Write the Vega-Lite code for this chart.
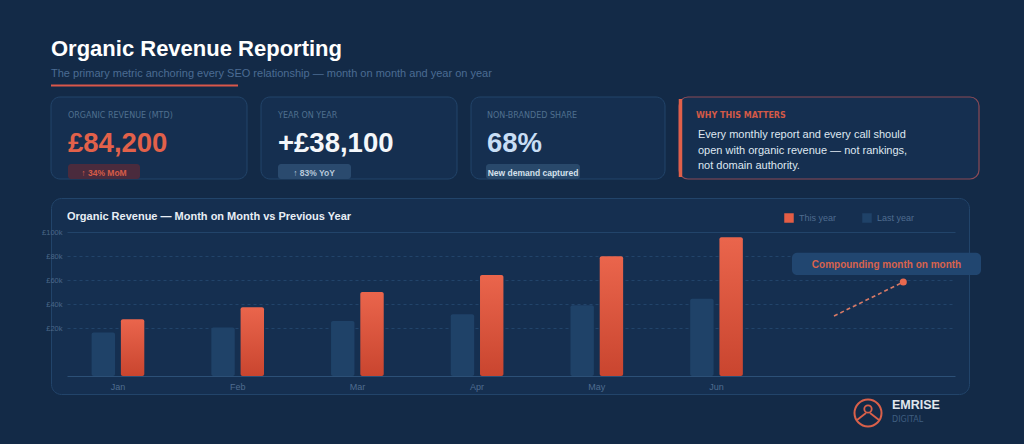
{
  "$schema": "https://vega.github.io/schema/vega-lite/v6.json",
  "background": "#132a47",
  "padding": {"left": 41, "top": 30, "right": 42, "bottom": 16},
  "config": {"font": "Liberation Sans", "view": {"stroke": null}},
  "datasets": {
    "revenue": [
      {"month": "Jan", "series": "Last year", "revenue": 16200},
      {"month": "Jan", "series": "This year", "revenue": 27300},
      {"month": "Feb", "series": "Last year", "revenue": 20400},
      {"month": "Feb", "series": "This year", "revenue": 37300},
      {"month": "Mar", "series": "Last year", "revenue": 25800},
      {"month": "Mar", "series": "This year", "revenue": 50000},
      {"month": "Apr", "series": "Last year", "revenue": 31400},
      {"month": "Apr", "series": "This year", "revenue": 64200},
      {"month": "May", "series": "Last year", "revenue": 38900},
      {"month": "May", "series": "This year", "revenue": 79800},
      {"month": "Jun", "series": "Last year", "revenue": 44400},
      {"month": "Jun", "series": "This year", "revenue": 95600}
    ],
    "kpis": [
      {"card": "revenue", "label": "ORGANIC REVENUE (MTD)", "value": "£84,200", "badge": "↑ 34% MoM"},
      {"card": "yoy", "label": "YEAR ON YEAR", "value": "+£38,100", "badge": "↑ 83% YoY"},
      {"card": "share", "label": "NON-BRANDED SHARE", "value": "68%", "badge": "New demand captured"},
      {"card": "why", "label": "WHY THIS MATTERS", "body": ["Every monthly report and every call should", "open with organic revenue — not rankings,", "not domain authority."]}
    ]
  },
  "spacing": 19,
  "bounds": "flush",
  "vconcat": [
    {
      "width": 918,
      "height": 48,
      "data": {"values": [{"title": "Organic Revenue Reporting", "subtitle": "The primary metric anchoring every SEO relationship — month on month and year on year"}]},
      "layer": [
        {
          "mark": {"type": "text", "align": "left", "baseline": "alphabetic", "fontSize": 22, "fontWeight": "bold", "color": "#ffffff"},
          "encoding": {
            "x": {"datum": 0, "type": "quantitative", "scale": {"domain": [0, 918], "range": [0, 918], "nice": false, "zero": false}, "axis": null},
            "y": {"datum": 26, "type": "quantitative", "scale": {"domain": [0, 48], "range": [0, 48], "nice": false, "zero": false}, "axis": null},
            "text": {"field": "title"}
          }
        },
        {
          "mark": {"type": "text", "align": "left", "baseline": "alphabetic", "fontSize": 11, "color": "#4b6c93"},
          "encoding": {
            "x": {"datum": 0, "type": "quantitative", "scale": {"domain": [0, 918], "range": [0, 918], "nice": false, "zero": false}, "axis": null},
            "y": {"datum": 46.7, "type": "quantitative", "scale": {"domain": [0, 48], "range": [0, 48], "nice": false, "zero": false}, "axis": null},
            "text": {"field": "subtitle"}
          }
        },
        {
          "mark": {"type": "rule", "color": "#d9574a", "strokeWidth": 2},
          "encoding": {
            "x": {"datum": 0, "type": "quantitative", "scale": {"domain": [0, 918], "range": [0, 918], "nice": false, "zero": false}, "axis": null},
            "x2": {"datum": 187},
            "y": {"datum": 55.5, "type": "quantitative", "scale": {"domain": [0, 48], "range": [0, 48], "nice": false, "zero": false}, "axis": null}
          }
        }
      ]
    },
    {
      "width": 928,
      "height": 82,
      "data": {"name": "kpis"},
      "layer": [
        {
          "transform": [{"filter": "datum.card === 'revenue'"}],
          "mark": {"type": "rect", "fill": "#152f50", "stroke": "#22446a", "strokeWidth": 1, "cornerRadius": 9},
          "encoding": {
            "x": {"datum": 0, "type": "quantitative", "scale": {"domain": [0, 928], "range": [0, 928], "nice": false, "zero": false}, "axis": null},
            "x2": {"datum": 196},
            "y": {"datum": 0, "type": "quantitative", "scale": {"domain": [0, 82], "range": [0, 82], "nice": false, "zero": false}, "axis": null},
            "y2": {"datum": 82}
          }
        },
        {
          "transform": [{"filter": "datum.card === 'yoy'"}],
          "mark": {"type": "rect", "fill": "#152f50", "stroke": "#22446a", "strokeWidth": 1, "cornerRadius": 9},
          "encoding": {
            "x": {"datum": 210, "type": "quantitative", "scale": {"domain": [0, 928], "range": [0, 928], "nice": false, "zero": false}, "axis": null},
            "x2": {"datum": 406},
            "y": {"datum": 0, "type": "quantitative", "scale": {"domain": [0, 82], "range": [0, 82], "nice": false, "zero": false}, "axis": null},
            "y2": {"datum": 82}
          }
        },
        {
          "transform": [{"filter": "datum.card === 'share'"}],
          "mark": {"type": "rect", "fill": "#152f50", "stroke": "#22446a", "strokeWidth": 1, "cornerRadius": 9},
          "encoding": {
            "x": {"datum": 420, "type": "quantitative", "scale": {"domain": [0, 928], "range": [0, 928], "nice": false, "zero": false}, "axis": null},
            "x2": {"datum": 614},
            "y": {"datum": 0, "type": "quantitative", "scale": {"domain": [0, 82], "range": [0, 82], "nice": false, "zero": false}, "axis": null},
            "y2": {"datum": 82}
          }
        },
        {
          "transform": [{"filter": "datum.card === 'why'"}],
          "mark": {"type": "rect", "fill": "#152f50", "stroke": "#8c4b57", "strokeWidth": 1.2, "cornerRadius": 9},
          "encoding": {
            "x": {"datum": 628, "type": "quantitative", "scale": {"domain": [0, 928], "range": [0, 928], "nice": false, "zero": false}, "axis": null},
            "x2": {"datum": 928},
            "y": {"datum": 0, "type": "quantitative", "scale": {"domain": [0, 82], "range": [0, 82], "nice": false, "zero": false}, "axis": null},
            "y2": {"datum": 82}
          }
        },
        {
          "transform": [{"filter": "datum.card === 'why'"}],
          "mark": {"type": "rule", "color": "#e0604a", "strokeWidth": 3.5},
          "encoding": {
            "x": {"datum": 629.5, "type": "quantitative", "scale": {"domain": [0, 928], "range": [0, 928], "nice": false, "zero": false}, "axis": null},
            "y": {"datum": 2, "type": "quantitative", "scale": {"domain": [0, 82], "range": [0, 82], "nice": false, "zero": false}, "axis": null},
            "y2": {"datum": 80}
          }
        },
        {
          "transform": [{"filter": "datum.card === 'revenue'"}],
          "mark": {"type": "text", "align": "left", "baseline": "alphabetic", "fontSize": 8, "font": "DejaVu Sans", "color": "#50708f"},
          "encoding": {
            "x": {"datum": 17, "type": "quantitative", "scale": {"domain": [0, 928], "range": [0, 928], "nice": false, "zero": false}, "axis": null},
            "y": {"datum": 21, "type": "quantitative", "scale": {"domain": [0, 82], "range": [0, 82], "nice": false, "zero": false}, "axis": null},
            "text": {"field": "label"}
          }
        },
        {
          "transform": [{"filter": "datum.card === 'yoy'"}],
          "mark": {"type": "text", "align": "left", "baseline": "alphabetic", "fontSize": 8, "font": "DejaVu Sans", "color": "#50708f"},
          "encoding": {
            "x": {"datum": 227, "type": "quantitative", "scale": {"domain": [0, 928], "range": [0, 928], "nice": false, "zero": false}, "axis": null},
            "y": {"datum": 21, "type": "quantitative", "scale": {"domain": [0, 82], "range": [0, 82], "nice": false, "zero": false}, "axis": null},
            "text": {"field": "label"}
          }
        },
        {
          "transform": [{"filter": "datum.card === 'share'"}],
          "mark": {"type": "text", "align": "left", "baseline": "alphabetic", "fontSize": 8, "font": "DejaVu Sans", "color": "#50708f"},
          "encoding": {
            "x": {"datum": 436, "type": "quantitative", "scale": {"domain": [0, 928], "range": [0, 928], "nice": false, "zero": false}, "axis": null},
            "y": {"datum": 21, "type": "quantitative", "scale": {"domain": [0, 82], "range": [0, 82], "nice": false, "zero": false}, "axis": null},
            "text": {"field": "label"}
          }
        },
        {
          "transform": [{"filter": "datum.card === 'why'"}],
          "mark": {"type": "text", "align": "left", "baseline": "alphabetic", "fontSize": 8, "font": "DejaVu Sans", "fontWeight": "bold", "color": "#d35a47"},
          "encoding": {
            "x": {"datum": 645, "type": "quantitative", "scale": {"domain": [0, 928], "range": [0, 928], "nice": false, "zero": false}, "axis": null},
            "y": {"datum": 21, "type": "quantitative", "scale": {"domain": [0, 82], "range": [0, 82], "nice": false, "zero": false}, "axis": null},
            "text": {"field": "label"}
          }
        },
        {
          "transform": [{"filter": "datum.card === 'revenue'"}],
          "mark": {"type": "text", "align": "left", "baseline": "alphabetic", "fontSize": 27.5, "fontWeight": "bold", "color": "#e2614a"},
          "encoding": {
            "x": {"datum": 17, "type": "quantitative", "scale": {"domain": [0, 928], "range": [0, 928], "nice": false, "zero": false}, "axis": null},
            "y": {"datum": 55, "type": "quantitative", "scale": {"domain": [0, 82], "range": [0, 82], "nice": false, "zero": false}, "axis": null},
            "text": {"field": "value"}
          }
        },
        {
          "transform": [{"filter": "datum.card === 'yoy'"}],
          "mark": {"type": "text", "align": "left", "baseline": "alphabetic", "fontSize": 27.5, "fontWeight": "bold", "color": "#f4f7fa"},
          "encoding": {
            "x": {"datum": 227, "type": "quantitative", "scale": {"domain": [0, 928], "range": [0, 928], "nice": false, "zero": false}, "axis": null},
            "y": {"datum": 55, "type": "quantitative", "scale": {"domain": [0, 82], "range": [0, 82], "nice": false, "zero": false}, "axis": null},
            "text": {"field": "value"}
          }
        },
        {
          "transform": [{"filter": "datum.card === 'share'"}],
          "mark": {"type": "text", "align": "left", "baseline": "alphabetic", "fontSize": 27.5, "fontWeight": "bold", "color": "#c8def5"},
          "encoding": {
            "x": {"datum": 436, "type": "quantitative", "scale": {"domain": [0, 928], "range": [0, 928], "nice": false, "zero": false}, "axis": null},
            "y": {"datum": 55, "type": "quantitative", "scale": {"domain": [0, 82], "range": [0, 82], "nice": false, "zero": false}, "axis": null},
            "text": {"field": "value"}
          }
        },
        {
          "transform": [{"filter": "datum.card === 'revenue'"}],
          "mark": {"type": "rect", "color": "#4a2b3d", "cornerRadius": 3},
          "encoding": {
            "x": {"datum": 17, "type": "quantitative", "scale": {"domain": [0, 928], "range": [0, 928], "nice": false, "zero": false}, "axis": null},
            "x2": {"datum": 89},
            "y": {"datum": 67, "type": "quantitative", "scale": {"domain": [0, 82], "range": [0, 82], "nice": false, "zero": false}, "axis": null},
            "y2": {"datum": 82}
          }
        },
        {
          "transform": [{"filter": "datum.card === 'yoy'"}],
          "mark": {"type": "rect", "color": "#2a4a6e", "cornerRadius": 3},
          "encoding": {
            "x": {"datum": 227, "type": "quantitative", "scale": {"domain": [0, 928], "range": [0, 928], "nice": false, "zero": false}, "axis": null},
            "x2": {"datum": 300},
            "y": {"datum": 67, "type": "quantitative", "scale": {"domain": [0, 82], "range": [0, 82], "nice": false, "zero": false}, "axis": null},
            "y2": {"datum": 82}
          }
        },
        {
          "transform": [{"filter": "datum.card === 'share'"}],
          "mark": {"type": "rect", "color": "#29496b", "cornerRadius": 3},
          "encoding": {
            "x": {"datum": 435, "type": "quantitative", "scale": {"domain": [0, 928], "range": [0, 928], "nice": false, "zero": false}, "axis": null},
            "x2": {"datum": 529},
            "y": {"datum": 67, "type": "quantitative", "scale": {"domain": [0, 82], "range": [0, 82], "nice": false, "zero": false}, "axis": null},
            "y2": {"datum": 82}
          }
        },
        {
          "transform": [{"filter": "datum.card === 'revenue'"}],
          "mark": {"type": "text", "align": "center", "baseline": "alphabetic", "fontSize": 8.5, "fontWeight": "bold", "color": "#d45c48"},
          "encoding": {
            "x": {"datum": 53, "type": "quantitative", "scale": {"domain": [0, 928], "range": [0, 928], "nice": false, "zero": false}, "axis": null},
            "y": {"datum": 78.5, "type": "quantitative", "scale": {"domain": [0, 82], "range": [0, 82], "nice": false, "zero": false}, "axis": null},
            "text": {"field": "badge"}
          }
        },
        {
          "transform": [{"filter": "datum.card === 'yoy'"}],
          "mark": {"type": "text", "align": "center", "baseline": "alphabetic", "fontSize": 8.5, "fontWeight": "bold", "color": "#b8c8da"},
          "encoding": {
            "x": {"datum": 263, "type": "quantitative", "scale": {"domain": [0, 928], "range": [0, 928], "nice": false, "zero": false}, "axis": null},
            "y": {"datum": 78.5, "type": "quantitative", "scale": {"domain": [0, 82], "range": [0, 82], "nice": false, "zero": false}, "axis": null},
            "text": {"field": "badge"}
          }
        },
        {
          "transform": [{"filter": "datum.card === 'share'"}],
          "mark": {"type": "text", "align": "center", "baseline": "alphabetic", "fontSize": 8.5, "fontWeight": "bold", "color": "#d5e0ec"},
          "encoding": {
            "x": {"datum": 482, "type": "quantitative", "scale": {"domain": [0, 928], "range": [0, 928], "nice": false, "zero": false}, "axis": null},
            "y": {"datum": 78.5, "type": "quantitative", "scale": {"domain": [0, 82], "range": [0, 82], "nice": false, "zero": false}, "axis": null},
            "text": {"field": "badge"}
          }
        },
        {
          "transform": [{"filter": "datum.card === 'why'"}],
          "mark": {"type": "text", "align": "left", "baseline": "alphabetic", "fontSize": 11, "lineHeight": 15.5, "color": "#dfe7f0"},
          "encoding": {
            "x": {"datum": 647, "type": "quantitative", "scale": {"domain": [0, 928], "range": [0, 928], "nice": false, "zero": false}, "axis": null},
            "y": {"datum": 41.3, "type": "quantitative", "scale": {"domain": [0, 82], "range": [0, 82], "nice": false, "zero": false}, "axis": null},
            "text": {"field": "body"}
          }
        }
      ]
    },
    {
      "width": 918,
      "height": 196,
      "view": {"fill": "#152f50", "stroke": "#22446a", "strokeWidth": 1, "cornerRadius": 10},
      "layer": [
        {
          "data": {"name": "revenue"},
          "encoding": {
            "x": {
              "field": "month", "type": "nominal",
              "sort": ["Jan", "Feb", "Mar", "Apr", "May", "Jun"],
              "scale": {"domain": ["Jan", "Feb", "Mar", "Apr", "May", "Jun"], "range": [16, 904], "paddingInner": 0.56, "paddingOuter": 0.989, "align": 0.104},
              "axis": {"title": null, "domain": false, "ticks": false, "labelPadding": 2, "offset": -14, "labelFontSize": 9, "labelColor": "#4f6c8f", "labelAngle": 0, "grid": false}
            },
            "xOffset": {"field": "series", "type": "nominal", "scale": {"domain": ["Last year", "This year"], "paddingInner": 0.2, "paddingOuter": 0}},
            "y": {
              "field": "revenue", "type": "quantitative",
              "scale": {"domain": [-20000, 100000], "range": [178, 34], "nice": false, "zero": false},
              "axis": {
                "title": null, "values": [-20000, 20000, 40000, 60000, 80000, 100000],
                "labelExpr": "datum.value < 0 ? '' : '£' + (datum.value / 1000) + 'k'",
                "domain": false, "ticks": false, "offset": -12, "labelPadding": 1,
                "labelFontSize": 7.5, "labelColor": "#4a6788",
                "grid": true,
                "gridColor": {"condition": {"test": "datum.value < 0", "value": "#2c5077"}, "value": "#22446a"},
                "gridDash": {"condition": {"test": "datum.value < 0 || datum.value >= 100000", "value": []}, "value": [3, 3]}
              }
            }
          },
          "layer": [
            {
              "transform": [{"filter": "datum.series === 'Last year'"}],
              "mark": {"type": "bar", "color": "#1f4268", "cornerRadius": 2},
              "encoding": {"y2": {"datum": -20000}}
            },
            {
              "transform": [{"filter": "datum.series === 'This year'"}],
              "mark": {
                "type": "bar", "cornerRadius": 2,
                "color": {"gradient": "linear", "x1": 0, "y1": 0, "x2": 0, "y2": 1, "stops": [{"offset": 0, "color": "#ea654c"}, {"offset": 1, "color": "#c9452f"}]}
              },
              "encoding": {"y2": {"datum": -20000}}
            },
            {
              "mark": {"type": "square", "opacity": 0},
              "encoding": {
                "color": {
                  "field": "series", "type": "nominal",
                  "scale": {"domain": ["This year", "Last year"], "range": ["#e45d45", "#1f4268"]},
                  "legend": {"orient": "none", "legendX": 733, "legendY": 183, "direction": "horizontal", "title": null, "symbolType": "square", "symbolSize": 90, "symbolOpacity": 1, "symbolStrokeWidth": 0, "labelFontSize": 9, "labelColor": "#4f6c8f", "columnPadding": 25, "labelOffset": 5}
                }
              }
            }
          ]
        },
        {
          "data": {"values": [{}]},
          "layer": [
            {
              "mark": {"type": "text", "align": "left", "baseline": "alphabetic", "fontSize": 11, "fontWeight": "bold", "color": "#e8eef5"},
              "encoding": {
                "x": {"datum": 16, "type": "quantitative", "scale": {"domain": [0, 918], "range": [0, 918], "nice": false, "zero": false}, "axis": null},
                "y": {"datum": 22.3, "type": "quantitative", "scale": {"domain": [0, 196], "range": [0, 196], "nice": false, "zero": false}, "axis": null},
                "text": {"value": "Organic Revenue — Month on Month vs Previous Year"}
              }
            },
            {
              "mark": {"type": "rect", "color": "#214670", "cornerRadius": 5},
              "encoding": {
                "x": {"datum": 741, "type": "quantitative", "scale": {"domain": [0, 918], "range": [0, 918], "nice": false, "zero": false}, "axis": null},
                "x2": {"datum": 930},
                "y": {"datum": 54.7, "type": "quantitative", "scale": {"domain": [0, 196], "range": [0, 196], "nice": false, "zero": false}, "axis": null},
                "y2": {"datum": 77}
              }
            },
            {
              "mark": {"type": "text", "align": "center", "baseline": "alphabetic", "fontSize": 10, "fontWeight": "bold", "color": "#d8634d"},
              "encoding": {
                "x": {"datum": 835.5, "type": "quantitative", "scale": {"domain": [0, 918], "range": [0, 918], "nice": false, "zero": false}, "axis": null},
                "y": {"datum": 69.5, "type": "quantitative", "scale": {"domain": [0, 196], "range": [0, 196], "nice": false, "zero": false}, "axis": null},
                "text": {"value": "Compounding month on month"}
              }
            },
            {
              "mark": {"type": "rule", "color": "#d97a66", "strokeWidth": 1.6, "strokeDash": [4, 3]},
              "encoding": {
                "x": {"datum": 783, "type": "quantitative", "scale": {"domain": [0, 918], "range": [0, 918], "nice": false, "zero": false}, "axis": null},
                "x2": {"datum": 852.3},
                "y": {"datum": 118, "type": "quantitative", "scale": {"domain": [0, 196], "range": [0, 196], "nice": false, "zero": false}, "axis": null},
                "y2": {"datum": 84}
              }
            },
            {
              "mark": {"type": "point", "filled": true, "size": 50, "color": "#e8694f", "opacity": 1},
              "encoding": {
                "x": {"datum": 852.3, "type": "quantitative", "scale": {"domain": [0, 918], "range": [0, 918], "nice": false, "zero": false}, "axis": null},
                "y": {"datum": 84, "type": "quantitative", "scale": {"domain": [0, 196], "range": [0, 196], "nice": false, "zero": false}, "axis": null}
              }
            },
            {
              "mark": {"type": "point", "filled": false, "size": 730, "color": "#d9604a", "strokeWidth": 2, "opacity": 1},
              "encoding": {
                "x": {"datum": 817, "type": "quantitative", "scale": {"domain": [0, 918], "range": [0, 918], "nice": false, "zero": false}, "axis": null},
                "y": {"datum": 215, "type": "quantitative", "scale": {"domain": [0, 196], "range": [0, 196], "nice": false, "zero": false}, "axis": null}
              }
            },
            {
              "mark": {"type": "point", "filled": false, "size": 55, "color": "#d9604a", "strokeWidth": 1.8, "opacity": 1},
              "encoding": {
                "x": {"datum": 817, "type": "quantitative", "scale": {"domain": [0, 918], "range": [0, 918], "nice": false, "zero": false}, "axis": null},
                "y": {"datum": 211, "type": "quantitative", "scale": {"domain": [0, 196], "range": [0, 196], "nice": false, "zero": false}, "axis": null}
              }
            },
            {
              "mark": {"type": "rule", "color": "#d9604a", "strokeWidth": 1.8},
              "encoding": {
                "x": {"datum": 815, "type": "quantitative", "scale": {"domain": [0, 918], "range": [0, 918], "nice": false, "zero": false}, "axis": null},
                "x2": {"datum": 806},
                "y": {"datum": 215, "type": "quantitative", "scale": {"domain": [0, 196], "range": [0, 196], "nice": false, "zero": false}, "axis": null},
                "y2": {"datum": 222}
              }
            },
            {
              "mark": {"type": "rule", "color": "#d9604a", "strokeWidth": 1.8},
              "encoding": {
                "x": {"datum": 819, "type": "quantitative", "scale": {"domain": [0, 918], "range": [0, 918], "nice": false, "zero": false}, "axis": null},
                "x2": {"datum": 828},
                "y": {"datum": 215, "type": "quantitative", "scale": {"domain": [0, 196], "range": [0, 196], "nice": false, "zero": false}, "axis": null},
                "y2": {"datum": 222}
              }
            },
            {
              "mark": {"type": "text", "align": "left", "baseline": "alphabetic", "fontSize": 12.5, "fontWeight": "bold", "color": "#e1e7ee"},
              "encoding": {
                "x": {"datum": 841, "type": "quantitative", "scale": {"domain": [0, 918], "range": [0, 918], "nice": false, "zero": false}, "axis": null},
                "y": {"datum": 210.5, "type": "quantitative", "scale": {"domain": [0, 196], "range": [0, 196], "nice": false, "zero": false}, "axis": null},
                "text": {"value": "EMRISE"}
              }
            },
            {
              "mark": {"type": "text", "align": "left", "baseline": "alphabetic", "fontSize": 8, "font": "DejaVu Sans", "color": "#3f5e80"},
              "encoding": {
                "x": {"datum": 841, "type": "quantitative", "scale": {"domain": [0, 918], "range": [0, 918], "nice": false, "zero": false}, "axis": null},
                "y": {"datum": 223.8, "type": "quantitative", "scale": {"domain": [0, 196], "range": [0, 196], "nice": false, "zero": false}, "axis": null},
                "text": {"value": "DIGITAL"}
              }
            }
          ]
        }
      ],
      "resolve": {"scale": {"x": "independent", "y": "independent"}}
    }
  ]
}
